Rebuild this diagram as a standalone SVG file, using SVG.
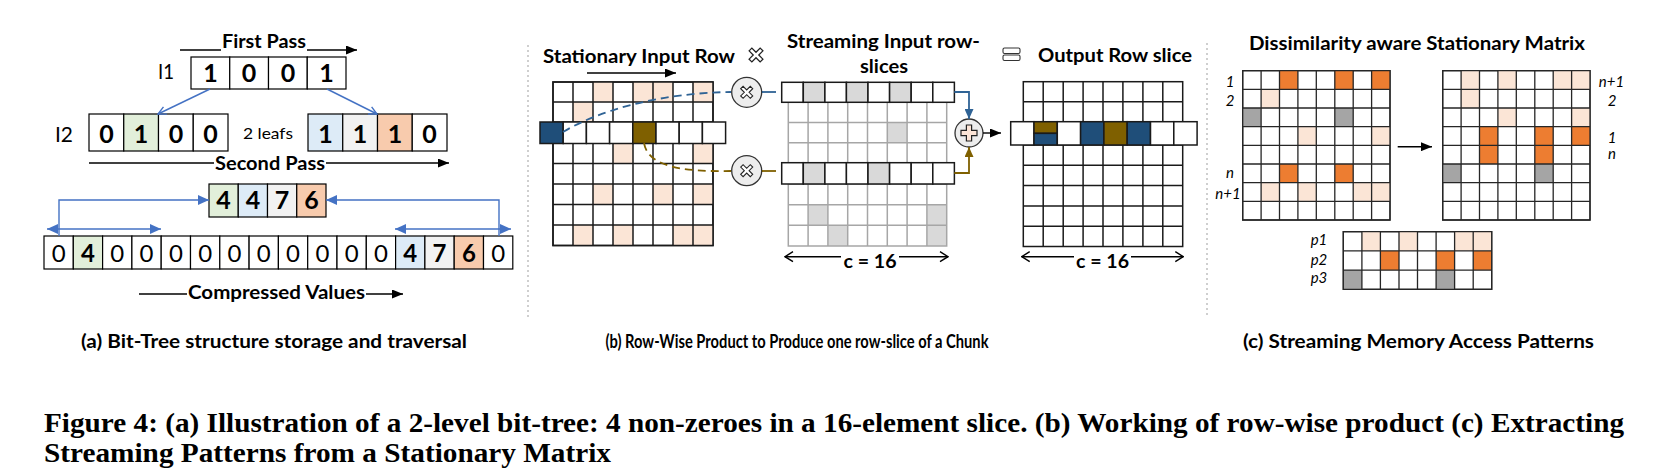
<svg xmlns="http://www.w3.org/2000/svg" xmlns:xlink="http://www.w3.org/1999/xlink" width="1658" height="470" viewBox="0 0 1658 470">
<style>
.t{font-family:Lato,"Liberation Sans",sans-serif;font-weight:700;fill:#000}
.r{font-family:Lato,"Liberation Sans",sans-serif;font-weight:400;fill:#000}
.d{font-family:Lato,"Liberation Sans",sans-serif;font-weight:700;font-size:25px;text-anchor:middle;fill:#000}
.dz{font-family:Lato,"Liberation Sans",sans-serif;font-weight:400;font-size:24px;text-anchor:middle;fill:#000}
.db2{font-family:Lato,"Liberation Sans",sans-serif;font-weight:700;font-size:24px;text-anchor:middle;fill:#000}
.it{font-family:Lato,"Liberation Sans",sans-serif;font-style:italic;font-size:15px;text-anchor:middle;fill:#000}
.cap{font-family:"Liberation Serif",serif;font-weight:700;font-size:27px;fill:#000}
.c{fill:#fff;stroke:#000;stroke-width:1.2}
.m{fill:#fff;stroke:#1a1a1a;stroke-width:1.5}
.k{fill:#fff;stroke:#262626;stroke-width:1.3}
.gl{fill:none;stroke:#1a1a1a;stroke-width:1.5}
.kl{fill:none;stroke:#262626;stroke-width:1.3}
.sl{fill:none;stroke:#a6a6a6;stroke-width:1.5}
.pe{fill:#FBE5D6}.pa{fill:#F8CBAD}.gr{fill:#E2EFDA}.bl{fill:#DDEBF7}.lg{fill:#F2F2F2}
.or{fill:#ED7D31}.gy{fill:#A5A5A5}.sg{fill:#D9D9D9}.dk{fill:#1F4E79}.br{fill:#7F6000}
.ln{fill:none;stroke:#000;stroke-width:1.4}
.bln{fill:none;stroke:#4472C4;stroke-width:1.4}
.sep{stroke:#b0b0b0;stroke-width:1.2;stroke-dasharray:2 3}
</style>
<defs>
<marker id="ah" viewBox="0 0 11 9" refX="11" refY="4.5" markerWidth="11" markerHeight="9" markerUnits="userSpaceOnUse" orient="auto-start-reverse"><path d="M0,0 L11,4.5 L0,9 z" fill="#000"/></marker>
<marker id="ahb" viewBox="0 0 11 10" refX="11" refY="5" markerWidth="11" markerHeight="10" markerUnits="userSpaceOnUse" orient="auto-start-reverse"><path d="M0,0 L11,5 L0,10 z" fill="#4472C4"/></marker>
<marker id="aob" viewBox="0 0 10 10" refX="9" refY="5" markerWidth="10" markerHeight="10" markerUnits="userSpaceOnUse" orient="auto"><path d="M1,1 L9,5 L1,9" fill="none" stroke="#4472C4" stroke-width="1.4"/></marker>
<marker id="aok" viewBox="0 0 10 12" refX="9" refY="6" markerWidth="10" markerHeight="12" markerUnits="userSpaceOnUse" orient="auto-start-reverse"><path d="M1,1 L9,6 L1,11" fill="none" stroke="#000" stroke-width="1.4"/></marker>
<marker id="ahc" viewBox="0 0 10 9" refX="10" refY="4.5" markerWidth="10" markerHeight="9" markerUnits="userSpaceOnUse" orient="auto"><path d="M0,0 L10,4.5 L0,9 z" fill="#2F6395"/></marker>
<marker id="ahn" viewBox="0 0 10 9" refX="10" refY="4.5" markerWidth="10" markerHeight="9" markerUnits="userSpaceOnUse" orient="auto"><path d="M0,0 L10,4.5 L0,9 z" fill="#7F6000"/></marker>
<polygon id="xmark" points="-6,-3.6 -3.6,-6 0,-2.4 3.6,-6 6,-3.6 2.4,0 6,3.6 3.6,6 0,2.4 -3.6,6 -6,3.6 -2.4,0" fill="#fff" stroke="#222" stroke-width="1.1"/>
<polygon id="pmark" points="-2.6,-8 2.6,-8 2.6,-2.6 8,-2.6 8,2.6 2.6,2.6 2.6,8 -2.6,8 -2.6,2.6 -8,2.6 -8,-2.6 -2.6,-2.6" fill="#FCE4D6" stroke="#222" stroke-width="1.2"/>
</defs>
<rect width="1658" height="470" fill="#fff"/>

<!-- separators -->
<g id="separators">
<line class="sep" x1="528" y1="45" x2="528" y2="318"/>
<line class="sep" x1="1207" y1="43" x2="1207" y2="318"/>
</g>

<!-- ============ (a) ============ -->
<g id="a-first-pass">
<text class="t" x="264" y="48" font-size="18" text-anchor="middle" textLength="84" lengthAdjust="spacingAndGlyphs">First Pass</text>
</g>
<g id="a-l1">
<text class="r" x="158" y="79" font-size="22" textLength="16" lengthAdjust="spacingAndGlyphs">I1</text>
<rect class="c" x="191" y="57" width="38.75" height="32"/>
<rect class="c" x="229.75" y="57" width="38.75" height="32"/>
<rect class="c" x="268.5" y="57" width="38.75" height="32"/>
<rect class="c" x="307.25" y="57" width="38.75" height="32"/>
<text class="d" x="210.4" y="82">1</text><text class="d" x="249.1" y="82">0</text><text class="d" x="287.9" y="82">0</text><text class="d" x="326.6" y="82">1</text>
</g>
<g id="a-l2-left">
<text class="r" x="55" y="142" font-size="22" textLength="18" lengthAdjust="spacingAndGlyphs">I2</text>
<rect class="c" x="89" y="114" width="34.75" height="37"/>
<rect class="c gr" x="123.75" y="114" width="34.75" height="37"/>
<rect class="c" x="158.5" y="114" width="34.75" height="37"/>
<rect class="c" x="193.25" y="114" width="34.75" height="37"/>
<text class="d" x="106.4" y="143">0</text><text class="d" x="141.1" y="143">1</text><text class="d" x="175.9" y="143">0</text><text class="d" x="210.6" y="143">0</text>
</g>
<g id="a-leafs">
<text class="r" x="268" y="139" font-size="16" text-anchor="middle" textLength="50" lengthAdjust="spacingAndGlyphs">2 leafs</text>
</g>
<g id="a-l2-right">
<rect class="c bl" x="308" y="114" width="34.75" height="37"/>
<rect class="c lg" x="342.75" y="114" width="34.75" height="37"/>
<rect class="c pa" x="377.5" y="114" width="34.75" height="37"/>
<rect class="c" x="412.25" y="114" width="34.75" height="37"/>
<text class="d" x="325.4" y="143">1</text><text class="d" x="360.1" y="143">1</text><text class="d" x="394.9" y="143">1</text><text class="d" x="429.6" y="143">0</text>
</g>
<g id="a-second-pass">
<text class="t" x="270" y="170" font-size="18" text-anchor="middle" textLength="110" lengthAdjust="spacingAndGlyphs">Second Pass</text>
</g>
<g id="a-values">
<rect class="c gr" x="209" y="184" width="29.25" height="33"/>
<rect class="c bl" x="238.25" y="184" width="29.25" height="33"/>
<rect class="c lg" x="267.5" y="184" width="29.25" height="33"/>
<rect class="c pa" x="296.75" y="184" width="29.25" height="33"/>
<text class="d" x="223.6" y="209">4</text><text class="d" x="252.9" y="209">4</text><text class="d" x="282.1" y="209">7</text><text class="d" x="311.4" y="209">6</text>
</g>
<g id="a-array">
<rect class="c" x="44" y="236" width="29.3" height="33"/>
<rect class="c gr" x="73.3" y="236" width="29.3" height="33"/>
<rect class="c" x="102.6" y="236" width="29.3" height="33"/>
<rect class="c" x="131.9" y="236" width="29.3" height="33"/>
<rect class="c" x="161.2" y="236" width="29.3" height="33"/>
<rect class="c" x="190.5" y="236" width="29.3" height="33"/>
<rect class="c" x="219.8" y="236" width="29.3" height="33"/>
<rect class="c" x="249.1" y="236" width="29.3" height="33"/>
<rect class="c" x="278.4" y="236" width="29.3" height="33"/>
<rect class="c" x="307.7" y="236" width="29.3" height="33"/>
<rect class="c" x="337" y="236" width="29.3" height="33"/>
<rect class="c" x="366.3" y="236" width="29.3" height="33"/>
<rect class="c bl" x="395.6" y="236" width="29.3" height="33"/>
<rect class="c lg" x="424.9" y="236" width="29.3" height="33"/>
<rect class="c pa" x="454.2" y="236" width="29.3" height="33"/>
<rect class="c" x="483.5" y="236" width="29.3" height="33"/>
<text class="dz" x="58.65" y="262">0</text>
<text class="db2" x="87.95" y="262">4</text>
<text class="dz" x="117.25" y="262">0</text>
<text class="dz" x="146.55" y="262">0</text>
<text class="dz" x="175.85" y="262">0</text>
<text class="dz" x="205.15" y="262">0</text>
<text class="dz" x="234.45" y="262">0</text>
<text class="dz" x="263.75" y="262">0</text>
<text class="dz" x="293.05" y="262">0</text>
<text class="dz" x="322.35" y="262">0</text>
<text class="dz" x="351.65" y="262">0</text>
<text class="dz" x="380.95" y="262">0</text>
<text class="db2" x="410.25" y="262">4</text>
<text class="db2" x="439.55" y="262">7</text>
<text class="db2" x="468.85" y="262">6</text>
<text class="dz" x="498.15" y="262">0</text>
</g>
<g id="a-compressed">
<text class="t" x="276.5" y="299" font-size="18" text-anchor="middle" textLength="177" lengthAdjust="spacingAndGlyphs">Compressed Values</text>
</g>
<g id="a-caption">
<text class="t" x="274" y="348" font-size="18" text-anchor="middle" textLength="386" lengthAdjust="spacingAndGlyphs">(a) Bit-Tree structure storage and traversal</text>
</g>

<!-- ============ (b) ============ -->
<g id="b-titles">
<text class="t" x="543" y="63" font-size="19" textLength="192" lengthAdjust="spacingAndGlyphs">Stationary Input Row</text>
<use href="#xmark" transform="translate(756,55) scale(1.15)"/>
<text class="t" x="787" y="48" font-size="19" textLength="193" lengthAdjust="spacingAndGlyphs">Streaming Input row-</text>
<text class="t" x="884" y="73" font-size="19" text-anchor="middle" textLength="48" lengthAdjust="spacingAndGlyphs">slices</text>
<rect x="1003" y="48" width="17" height="5.5" rx="1.5" fill="#fff" stroke="#333" stroke-width="1.1"/>
<rect x="1003" y="55" width="17" height="5.5" rx="1.5" fill="#fff" stroke="#333" stroke-width="1.1"/>
<text class="t" x="1038" y="62" font-size="19" textLength="154" lengthAdjust="spacingAndGlyphs">Output Row slice</text>
</g>
<g id="b-stationary">
<rect class="m" x="553" y="82" width="160" height="163.5"/>
<rect class="pe" x="593" y="82" width="20" height="20"/><rect class="pe" x="633" y="82" width="20" height="20"/><rect class="pe" x="653" y="82" width="20" height="20"/><rect class="pe" x="693" y="82" width="20" height="20"/>
<rect class="pe" x="573" y="102" width="20" height="20"/>
<rect class="pe" x="613" y="143" width="20" height="20.5"/><rect class="pe" x="693" y="143" width="20" height="20.5"/>
<rect class="pe" x="593" y="184" width="20" height="20.5"/><rect class="pe" x="653" y="184" width="20" height="20.5"/><rect class="pe" x="693" y="184" width="20" height="20.5"/>
<rect class="pe" x="573" y="225" width="20" height="20.5"/><rect class="pe" x="613" y="225" width="20" height="20.5"/><rect class="pe" x="673" y="225" width="20" height="20.5"/><rect class="pe" x="693" y="225" width="20" height="20.5"/>
<path class="gl" d="M573,82V245.5M593,82V245.5M613,82V245.5M633,82V245.5M653,82V245.5M673,82V245.5M693,82V245.5M553,102H713M553,122H713M553,143H713M553,163.5H713M553,184H713M553,204.5H713M553,225H713M553,82H713V245.5H553z"/>
<rect class="m dk" x="540" y="122" width="23.2" height="21.5"/>
<rect class="m" x="563.2" y="122" width="23.2" height="21.5"/>
<rect class="m" x="586.4" y="122" width="23.2" height="21.5"/>
<rect class="m" x="609.6" y="122" width="23.2" height="21.5"/>
<rect class="m br" x="632.8" y="122" width="23.2" height="21.5"/>
<rect class="m" x="656" y="122" width="23.2" height="21.5"/>
<rect class="m" x="679.2" y="122" width="23.2" height="21.5"/>
<rect class="m" x="702.4" y="122" width="23.2" height="21.5"/>
<line class="ln" x1="587" y1="73" x2="676" y2="73" marker-end="url(#ah)"/>
</g>
<g id="b-mult1">
<circle cx="746.7" cy="92.3" r="15" fill="#EDEDED" stroke="#333" stroke-width="1.3"/>
<use href="#xmark" transform="translate(746.7,92.3)"/>
</g>
<g id="b-mult2">
<circle cx="746.7" cy="170.7" r="15" fill="#EDEDED" stroke="#333" stroke-width="1.3"/>
<use href="#xmark" transform="translate(746.7,170.7)"/>
</g>
<g id="b-streaming">
<rect x="788.3" y="102.3" width="158.4" height="143.6" fill="#fff"/>
<rect class="sg" x="887.3" y="122.5" width="19.8" height="20.2"/>
<rect class="sg" x="808.1" y="204.7" width="19.8" height="20.6"/><rect class="sg" x="926.9" y="204.7" width="19.8" height="20.6"/>
<rect class="sg" x="827.9" y="225.3" width="19.8" height="20.6"/><rect class="sg" x="926.9" y="225.3" width="19.8" height="20.6"/>
<path class="sl" d="M808.1,102.3V245.9M827.9,102.3V245.9M847.7,102.3V245.9M867.5,102.3V245.9M887.3,102.3V245.9M907.1,102.3V245.9M926.9,102.3V245.9M788.3,122.5H946.7M788.3,142.7H946.7M788.3,162.9H946.7M788.3,184H946.7M788.3,204.7H946.7M788.3,225.3H946.7M788.3,102.3H946.7V245.9H788.3z"/>
<rect class="m" x="781.7" y="82.3" width="21.58" height="20"/>
<rect class="m sg" x="803.3" y="82.3" width="21.58" height="20"/>
<rect class="m" x="824.9" y="82.3" width="21.58" height="20"/>
<rect class="m sg" x="846.4" y="82.3" width="21.58" height="20"/>
<rect class="m" x="868" y="82.3" width="21.58" height="20"/>
<rect class="m sg" x="889.6" y="82.3" width="21.58" height="20"/>
<rect class="m" x="911.2" y="82.3" width="21.58" height="20"/>
<rect class="m" x="932.8" y="82.3" width="21.58" height="20"/>
<rect class="m" x="781.7" y="162.7" width="21.58" height="21.3"/>
<rect class="m sg" x="803.3" y="162.7" width="21.58" height="21.3"/>
<rect class="m" x="824.9" y="162.7" width="21.58" height="21.3"/>
<rect class="m" x="846.4" y="162.7" width="21.58" height="21.3"/>
<rect class="m sg" x="868" y="162.7" width="21.58" height="21.3"/>
<rect class="m" x="889.6" y="162.7" width="21.58" height="21.3"/>
<rect class="m" x="911.2" y="162.7" width="21.58" height="21.3"/>
<rect class="m" x="932.8" y="162.7" width="21.58" height="21.3"/>
<text class="t" x="870" y="268" font-size="18" text-anchor="middle" textLength="53" lengthAdjust="spacingAndGlyphs">c = 16</text>
</g>
<g id="b-add">
<circle cx="969" cy="133" r="14" fill="#EDEDED" stroke="#333" stroke-width="1.3"/>
<use href="#pmark" transform="translate(969,133)"/>
</g>
<g id="b-output">
<rect class="m" x="1023.3" y="81.7" width="159.4" height="164.8"/>
<path class="gl" d="M1043.2,81.7V246.5M1063.2,81.7V246.5M1083.1,81.7V246.5M1103,81.7V246.5M1122.9,81.7V246.5M1142.9,81.7V246.5M1162.8,81.7V246.5M1023.3,101.7H1182.7M1023.3,121.7H1182.7M1023.3,145H1182.7M1023.3,165.3H1182.7M1023.3,185.6H1182.7M1023.3,205.9H1182.7M1023.3,226.2H1182.7"/>
<rect class="m" x="1010.7" y="121.7" width="23.3" height="23.3"/>
<rect class="m br" x="1034" y="121.7" width="23.3" height="11.65"/>
<rect class="m dk" x="1034" y="133.35" width="23.3" height="11.65"/>
<rect class="m" x="1057.3" y="121.7" width="23.3" height="23.3"/>
<rect class="m dk" x="1080.6" y="121.7" width="23.3" height="23.3"/>
<rect class="m br" x="1103.9" y="121.7" width="23.3" height="23.3"/>
<rect class="m dk" x="1127.2" y="121.7" width="23.3" height="23.3"/>
<rect class="m" x="1150.5" y="121.7" width="23.3" height="23.3"/>
<rect class="m" x="1173.8" y="121.7" width="23.3" height="23.3"/>
<text class="t" x="1102.5" y="268" font-size="18" text-anchor="middle" textLength="53" lengthAdjust="spacingAndGlyphs">c = 16</text>
</g>
<g id="b-caption">
<text class="t" x="797" y="348" font-size="18" text-anchor="middle" textLength="383" lengthAdjust="spacingAndGlyphs">(b) Row-Wise Product to Produce one row-slice of a Chunk</text>
</g>

<!-- ============ (c) ============ -->
<g id="c-title">
<text class="t" x="1249" y="50" font-size="19" textLength="336" lengthAdjust="spacingAndGlyphs">Dissimilarity aware Stationary Matrix</text>
</g>
<g id="c-left-matrix">
<rect class="k" x="1242.7" y="70.7" width="147.3" height="149.3"/>
<rect class="or" x="1279.5" y="70.7" width="18.4" height="18.7"/><rect class="or" x="1334.8" y="70.7" width="18.4" height="18.7"/><rect class="or" x="1371.6" y="70.7" width="18.4" height="18.7"/>
<rect class="pe" x="1261.1" y="89.4" width="18.4" height="18.6"/>
<rect class="gy" x="1242.7" y="108" width="18.4" height="18.7"/><rect class="gy" x="1334.8" y="108" width="18.4" height="18.7"/>
<rect class="pe" x="1297.9" y="126.7" width="18.4" height="18.6"/><rect class="pe" x="1371.6" y="126.7" width="18.4" height="18.6"/>
<rect class="or" x="1279.5" y="164" width="18.4" height="18.7"/><rect class="or" x="1334.8" y="164" width="18.4" height="18.7"/>
<rect class="pe" x="1261.1" y="182.7" width="18.4" height="18.6"/><rect class="pe" x="1297.9" y="182.7" width="18.4" height="18.6"/><rect class="pe" x="1353.2" y="182.7" width="18.4" height="18.6"/><rect class="pe" x="1371.6" y="182.7" width="18.4" height="18.6"/>
<path class="kl" d="M1261.1,70.7V220M1279.5,70.7V220M1297.9,70.7V220M1316.3,70.7V220M1334.8,70.7V220M1353.2,70.7V220M1371.6,70.7V220M1242.7,89.4H1390M1242.7,108H1390M1242.7,126.7H1390M1242.7,145.3H1390M1242.7,164H1390M1242.7,182.7H1390M1242.7,201.3H1390M1242.7,70.7H1390V220H1242.7z"/>
<text class="it" x="1230" y="86.7">1</text>
<text class="it" x="1230" y="106">2</text>
<text class="it" x="1230" y="178.3">n</text>
<text class="it" x="1228" y="199.3">n+1</text>
</g>
<g id="c-right-matrix">
<rect class="k" x="1442.7" y="70.7" width="147.3" height="149.3"/>
<rect class="pe" x="1461.1" y="70.7" width="18.4" height="18.7"/><rect class="pe" x="1497.9" y="70.7" width="18.4" height="18.7"/><rect class="pe" x="1553.2" y="70.7" width="18.4" height="18.7"/><rect class="pe" x="1571.6" y="70.7" width="18.4" height="18.7"/>
<rect class="pe" x="1461.1" y="89.4" width="18.4" height="18.6"/>
<rect class="pe" x="1497.9" y="108" width="18.4" height="18.7"/><rect class="pe" x="1571.6" y="108" width="18.4" height="18.7"/>
<rect class="or" x="1479.5" y="126.7" width="18.4" height="18.6"/><rect class="or" x="1534.8" y="126.7" width="18.4" height="18.6"/><rect class="or" x="1571.6" y="126.7" width="18.4" height="18.6"/>
<rect class="or" x="1479.5" y="145.3" width="18.4" height="18.7"/><rect class="or" x="1534.8" y="145.3" width="18.4" height="18.7"/>
<rect class="gy" x="1442.7" y="164" width="18.4" height="18.7"/><rect class="gy" x="1534.8" y="164" width="18.4" height="18.7"/>
<path class="kl" d="M1461.1,70.7V220M1479.5,70.7V220M1497.9,70.7V220M1516.3,70.7V220M1534.8,70.7V220M1553.2,70.7V220M1571.6,70.7V220M1442.7,89.4H1590M1442.7,108H1590M1442.7,126.7H1590M1442.7,145.3H1590M1442.7,164H1590M1442.7,182.7H1590M1442.7,201.3H1590M1442.7,70.7H1590V220H1442.7z"/>
<text class="it" x="1611.5" y="86.7">n+1</text>
<text class="it" x="1612" y="106">2</text>
<text class="it" x="1612" y="142.7">1</text>
<text class="it" x="1612" y="159.3">n</text>
</g>
<g id="c-patterns">
<rect class="k" x="1343.3" y="231.7" width="148.4" height="57.6"/>
<rect class="pe" x="1361.9" y="231.7" width="18.5" height="19.2"/><rect class="pe" x="1399" y="231.7" width="18.5" height="19.2"/><rect class="pe" x="1454.6" y="231.7" width="18.6" height="19.2"/><rect class="pe" x="1473.2" y="231.7" width="18.5" height="19.2"/>
<rect class="or" x="1380.4" y="250.9" width="18.6" height="19.2"/><rect class="or" x="1436.1" y="250.9" width="18.5" height="19.2"/><rect class="or" x="1473.2" y="250.9" width="18.5" height="19.2"/>
<rect class="gy" x="1343.3" y="270.1" width="18.6" height="19.2"/><rect class="gy" x="1436.1" y="270.1" width="18.5" height="19.2"/>
<path class="kl" d="M1361.9,231.7V289.3M1380.4,231.7V289.3M1399,231.7V289.3M1417.5,231.7V289.3M1436.1,231.7V289.3M1454.6,231.7V289.3M1473.2,231.7V289.3M1343.3,250.9H1491.7M1343.3,270.1H1491.7M1343.3,231.7H1491.7V289.3H1343.3z"/>
<text class="it" x="1319" y="245">p1</text>
<text class="it" x="1319" y="264.7">p2</text>
<text class="it" x="1319" y="283.3">p3</text>
</g>
<g id="c-caption">
<text class="t" x="1418.5" y="348" font-size="18" text-anchor="middle" textLength="351" lengthAdjust="spacingAndGlyphs">(c) Streaming Memory Access Patterns</text>
</g>

<!-- ============ connectors ============ -->
<g id="connectors">
<path class="ln" d="M180,50H221"/>
<path class="ln" d="M307,50H357" marker-end="url(#ah)"/>
<path class="bln" d="M210,89L158,114" marker-end="url(#aob)"/>
<path class="bln" d="M327,89L377,114" marker-end="url(#aob)"/>
<path class="ln" d="M89,163H214"/>
<path class="ln" d="M326,163H449" marker-end="url(#ah)"/>
<path class="bln" d="M59,236V200H209" marker-end="url(#ahb)"/>
<path class="bln" d="M499,236V200H326" marker-end="url(#ahb)"/>
<path class="bln" d="M47,229H161" marker-start="url(#ahb)" marker-end="url(#ahb)"/>
<path class="bln" d="M395,229H511" marker-start="url(#ahb)" marker-end="url(#ahb)"/>
<path class="ln" d="M139,294H187"/>
<path class="ln" d="M366,294H403" marker-end="url(#ah)"/>
<path d="M563,132C600,110 660,93 731,92" fill="none" stroke="#2F6395" stroke-width="1.8" stroke-dasharray="8 5"/>
<path d="M762,92H776" fill="none" stroke="#2F6395" stroke-width="1.8"/>
<path d="M644,143C648,166 680,172 731,171" fill="none" stroke="#7F6000" stroke-width="1.8" stroke-dasharray="8 5"/>
<path d="M762,171H776" fill="none" stroke="#7F6000" stroke-width="1.8"/>
<path d="M954.3,92H969V119" fill="none" stroke="#2F6395" stroke-width="1.8" marker-end="url(#ahc)"/>
<path d="M954.3,173H969V147" fill="none" stroke="#7F6000" stroke-width="1.8" marker-end="url(#ahn)"/>
<path class="ln" d="M983,133H1001" marker-end="url(#ah)"/>
<path class="ln" d="M785,256.7H841" marker-start="url(#aok)"/>
<path class="ln" d="M899,256.7H948" marker-end="url(#aok)"/>
<path class="ln" d="M1021.7,256.7H1074" marker-start="url(#aok)"/>
<path class="ln" d="M1131,256.7H1183.3" marker-end="url(#aok)"/>
<path class="ln" d="M1397.7,146.7H1432" marker-end="url(#ah)"/>
</g>

<!-- ============ figure caption ============ -->
<g id="figure-caption">
<text class="cap" x="44" y="432" textLength="1580" lengthAdjust="spacingAndGlyphs">Figure 4: (a) Illustration of a 2-level bit-tree: 4 non-zeroes in a 16-element slice. (b) Working of row-wise product (c) Extracting</text>
<text class="cap" x="44" y="462" textLength="567" lengthAdjust="spacingAndGlyphs">Streaming Patterns from a Stationary Matrix</text>
</g>
</svg>
